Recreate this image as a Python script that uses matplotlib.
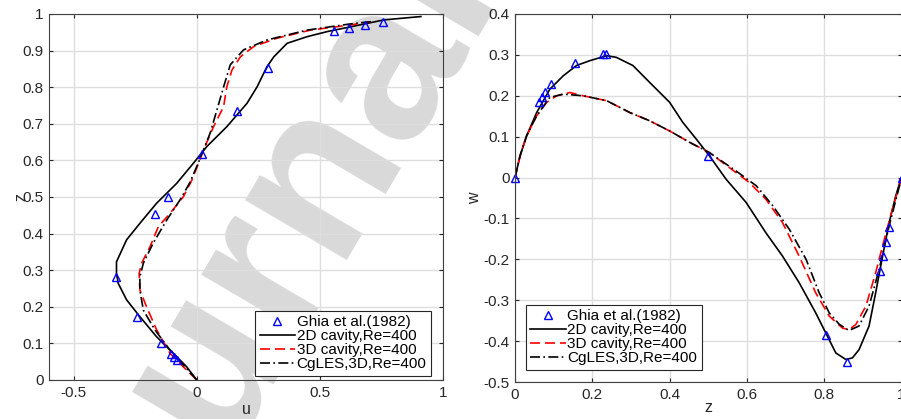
import numpy as np
import matplotlib.pyplot as plt
from matplotlib.lines import Line2D

plt.rcParams['font.family'] = ['Liberation Sans', 'DejaVu Sans']

# ---- left panel: u along vertical centreline ----
ghia_u = [0.758, 0.684, 0.618, 0.559, 0.291, 0.163, 0.021, -0.115, -0.171, -0.327, -0.243, -0.146, -0.103, -0.093, -0.082]
ghia_uz = [0.977, 0.969, 0.961, 0.953, 0.852, 0.734, 0.617, 0.500, 0.453, 0.281, 0.172, 0.102, 0.070, 0.063, 0.055]

u_2d = [0.0, -0.041, -0.095, -0.163, -0.231, -0.285, -0.319, -0.326, -0.326, -0.285, -0.231, -0.163, -0.082,
        -0.014, 0.041, 0.122, 0.204, 0.245, 0.285, 0.313, 0.367, 0.448, 0.530, 0.625, 0.761, 0.910]
z_2d = [0.0, 0.036, 0.073, 0.118, 0.173, 0.219, 0.264, 0.291, 0.323, 0.383, 0.428, 0.483, 0.537,
        0.592, 0.638, 0.692, 0.756, 0.801, 0.856, 0.883, 0.920, 0.938, 0.952, 0.965, 0.984, 0.993]

u_3d = [0.0, -0.041, -0.109, -0.163, -0.204, -0.231, -0.234, -0.224, -0.190, -0.156, -0.109, -0.054, -0.020,
        0.007, 0.027, 0.068, 0.109, 0.122, 0.143, 0.177, 0.231, 0.326, 0.462, 0.625, 0.707]
z_3d = [0.0, 0.027, 0.073, 0.137, 0.200, 0.246, 0.291, 0.319, 0.364, 0.419, 0.455, 0.501, 0.546,
        0.592, 0.628, 0.692, 0.747, 0.801, 0.847, 0.883, 0.911, 0.934, 0.956, 0.970, 0.979]

u_les = [0.0, -0.048, -0.109, -0.170, -0.217, -0.231, -0.231, -0.217, -0.177, -0.122, -0.068, -0.030,
         0.0, 0.027, 0.054, 0.082, 0.109, 0.136, 0.190, 0.285, 0.448, 0.625, 0.707]
z_les = [0.0, 0.036, 0.082, 0.137, 0.191, 0.246, 0.282, 0.319, 0.374, 0.437, 0.492, 0.537,
         0.583, 0.628, 0.674, 0.738, 0.801, 0.861, 0.902, 0.929, 0.956, 0.973, 0.979]

# ---- right panel: w along horizontal centreline ----
ghia_z = [0.0, 0.0625, 0.0703, 0.0781, 0.0938, 0.1563, 0.2266, 0.2344, 0.5, 0.8047, 0.8594, 0.9453, 0.9531, 0.9609, 0.9688, 1.0]
ghia_w = [0.0, 0.184, 0.197, 0.209, 0.230, 0.281, 0.302, 0.302, 0.052, -0.386, -0.450, -0.228, -0.193, -0.157, -0.121, 0.0]

zz_2d = [0.0, 0.013, 0.030, 0.056, 0.090, 0.125, 0.159, 0.194, 0.237, 0.262, 0.305, 0.348, 0.400, 0.434, 0.469,
         0.503, 0.546, 0.598, 0.649, 0.692, 0.735, 0.778, 0.804, 0.830, 0.856, 0.873, 0.890, 0.916, 0.933,
         0.951, 0.968, 0.985, 0.998]
w_2d = [0.0, 0.053, 0.102, 0.159, 0.216, 0.249, 0.274, 0.286, 0.298, 0.294, 0.274, 0.233, 0.184, 0.135, 0.094,
        0.053, -0.004, -0.061, -0.135, -0.192, -0.257, -0.331, -0.380, -0.429, -0.445, -0.441, -0.421, -0.363, -0.282,
        -0.192, -0.110, -0.045, -0.004]

zz_3d = [0.0, 0.013, 0.030, 0.056, 0.082, 0.108, 0.142, 0.176, 0.237, 0.297, 0.348, 0.400, 0.452, 0.503,
         0.572, 0.606, 0.649, 0.692, 0.735, 0.778, 0.813, 0.847, 0.864, 0.882, 0.908, 0.933, 0.951, 0.976, 0.998]
w_3d = [0.0, 0.053, 0.102, 0.151, 0.184, 0.200, 0.208, 0.200, 0.188, 0.159, 0.139, 0.114, 0.086, 0.061,
        0.012, -0.012, -0.053, -0.110, -0.192, -0.282, -0.339, -0.368, -0.372, -0.359, -0.314, -0.233, -0.167, -0.078, -0.008]

zz_les = [0.0, 0.013, 0.030, 0.056, 0.090, 0.125, 0.176, 0.237, 0.297, 0.348, 0.400, 0.452, 0.503, 0.572,
          0.624, 0.667, 0.710, 0.753, 0.787, 0.813, 0.839, 0.864, 0.890, 0.916, 0.942, 0.968, 0.998]
w_les = [0.0, 0.053, 0.102, 0.151, 0.196, 0.204, 0.200, 0.188, 0.159, 0.139, 0.114, 0.086, 0.061, 0.016,
         -0.020, -0.069, -0.127, -0.200, -0.282, -0.331, -0.359, -0.374, -0.363, -0.314, -0.225, -0.118, -0.008]

labels = ['Ghia et al.(1982)', '2D cavity,Re=400', '3D cavity,Re=400', 'CgLES,3D,Re=400']

fig = plt.figure(figsize=(9.01, 4.19), dpi=100)

# watermark behind both panels
fig.text(0.398, 0.480, 'urnal', fontsize=160, fontweight='bold', color='#d9d9d9',
         rotation=59.5, rotation_mode='anchor', ha='center', va='baseline', zorder=-5)

ax1 = fig.add_axes([0.0544, 0.0931, 0.4373, 0.8735])
ax2 = fig.add_axes([0.5716, 0.0883, 0.4290, 0.8783])


def style(ax):
    ax.set_facecolor('none')
    ax.grid(True, color='#dedede', linewidth=1.0)
    ax.set_axisbelow(True)
    ax.tick_params(direction='in', top=True, right=True, length=3, width=0.8,
                   labelsize=11, colors='#262626', pad=4)
    for s in ax.spines.values():
        s.set_color('#404040')
        s.set_linewidth(0.8)


def handles():
    return [Line2D([], [], ls='none', marker='^', mfc='none', mec='#0000ff', ms=6, mew=1),
            Line2D([], [], color='k', lw=1.2),
            Line2D([], [], color='r', lw=1.2, ls=(0, (6, 3))),
            Line2D([], [], color='k', lw=1.2, ls=(0, (6, 2, 1, 2)))]


def add_legend(ax, loc, anchor):
    leg = ax.legend(handles(), labels, loc=loc, bbox_to_anchor=anchor,
                    fontsize=11, frameon=True, fancybox=False, edgecolor='#262626', framealpha=1,
                    handlelength=2.3, handletextpad=0.1, labelspacing=0.0, borderpad=0.3,
                    borderaxespad=0)
    leg.get_frame().set_linewidth(0.8)


# left
ax1.plot(u_2d, z_2d, color='k', lw=1.2)
ax1.plot(u_3d, z_3d, color='r', lw=1.2, ls=(0, (6, 3)))
ax1.plot(u_les, z_les, color='k', lw=1.2, ls=(0, (6, 2, 1, 2)))
ax1.plot(ghia_u, ghia_uz, ls='none', marker='^', mfc='none', mec='#0000ff', ms=6, mew=1)
ax1.set_xlim(-0.6, 1)
ax1.set_ylim(0, 1)
ax1.set_xticks([-0.5, 0, 0.5, 1])
ax1.set_xticklabels(['-0.5', '0', '0.5', '1'])
ax1.set_yticks(np.arange(0, 1.01, 0.1))
ax1.set_yticklabels(['0', '0.1', '0.2', '0.3', '0.4', '0.5', '0.6', '0.7', '0.8', '0.9', '1'])
ax1.set_xlabel('u', fontsize=11.5, labelpad=2, color='#262626')
ax1.set_ylabel('z', fontsize=11.5, labelpad=-4, color='#262626')
style(ax1)
add_legend(ax1, 'lower right', (0.9695, 0.011))

# right
ax2.plot(zz_2d, w_2d, color='k', lw=1.2)
ax2.plot(zz_3d, w_3d, color='r', lw=1.2, ls=(0, (6, 3)))
ax2.plot(zz_les, w_les, color='k', lw=1.2, ls=(0, (6, 2, 1, 2)))
ax2.plot(ghia_z, ghia_w, ls='none', marker='^', mfc='none', mec='#0000ff', ms=6, mew=1, clip_on=False)
ax2.set_xlim(0, 1)
ax2.set_ylim(-0.5, 0.4)
ax2.set_xticks([0, 0.2, 0.4, 0.6, 0.8, 1])
ax2.set_xticklabels(['0', '0.2', '0.4', '0.6', '0.8', '1'])
ax2.set_yticks(np.arange(-0.5, 0.41, 0.1))
ax2.set_yticklabels(['-0.5', '-0.4', '-0.3', '-0.2', '-0.1', '0', '0.1', '0.2', '0.3', '0.4'])
ax2.set_xlabel('z', fontsize=11.5, labelpad=-1, color='#262626')
ax2.set_ylabel('w', fontsize=11.5, labelpad=1, color='#262626')
style(ax2)
add_legend(ax2, 'lower left', (0.028, 0.033))

fig.savefig('out.png', dpi=100)
